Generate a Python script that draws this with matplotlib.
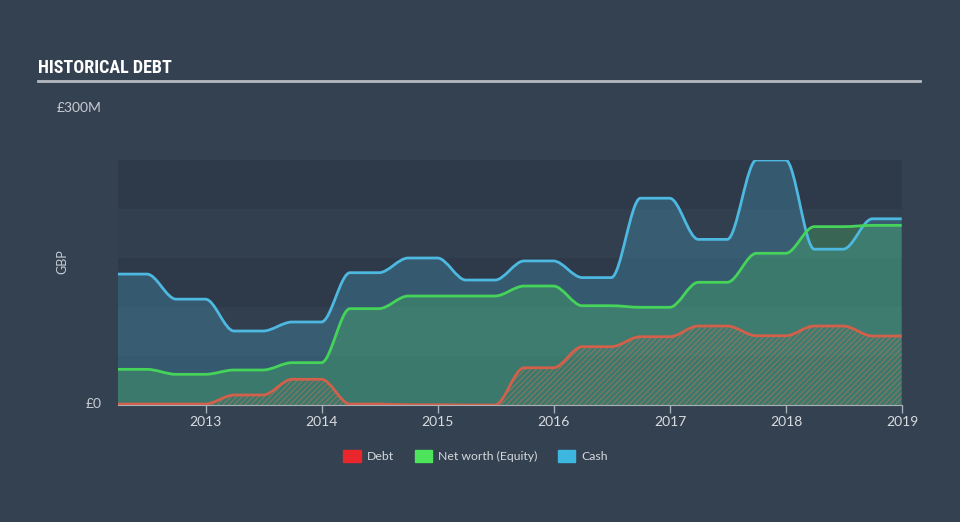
import numpy as np
import pandas as pd
import matplotlib
matplotlib.use("Agg")
import matplotlib.pyplot as plt
import matplotlib.dates as mdates
from matplotlib import font_manager
from matplotlib.path import Path
from matplotlib.patches import PathPatch, Patch

# quarterly points (GBP millions)
dates = pd.date_range("2012-03-31", "2018-12-31", freq="QE")
cash = [133.6, 133.6, 108, 108, 75.5, 75.5, 84.7, 84.7, 135, 135, 150, 150,
        127.5, 127.5, 147, 147, 130, 130, 211, 211, 169, 169, 250, 250,
        159, 159, 190, 190]
equity = [36.4, 36.4, 31.3, 31.3, 35.7, 35.7, 43.2, 43.2, 98.3, 98.3, 111.2, 111.2,
          111.2, 111.2, 121.4, 121.4, 101.3, 101.3, 99.7, 99.7, 125.2, 125.2, 154.8, 154.8,
          182, 182, 183.3, 183.3]
debt = [1, 1, 1, 1, 10.2, 10.2, 26.2, 26.2, 1, 1, 0.3, 0.3,
        0, 0, 38, 38, 59.5, 59.5, 69.7, 69.7, 80.6, 80.6, 70.7, 70.7,
        80.6, 80.6, 70.4, 70.4]
years = [2013, 2014, 2015, 2016, 2017, 2018, 2019]

BG = "#344151"
xs = mdates.date2num(dates.to_pydatetime())

# pick a narrow font for the title if one is there
installed = {f.name for f in font_manager.fontManager.ttflist}
title_font = "DejaVu Sans"
title_stretch = "normal"
for name in ["Liberation Sans Narrow", "DejaVu Sans Condensed", "Roboto Condensed", "Open Sans Condensed"]:
    if name in installed:
        title_font = name
        break
else:
    title_stretch = "condensed"


def smooth_path(x, y, close=False):
    # monotone-style curve: flat tangents at each point
    verts = [(x[0], y[0])]
    codes = [Path.MOVETO]
    for i in range(len(x) - 1):
        dx = (x[i + 1] - x[i]) / 3
        verts += [(x[i] + dx, y[i]), (x[i + 1] - dx, y[i + 1]), (x[i + 1], y[i + 1])]
        codes += [Path.CURVE4] * 3
    if close:
        verts += [(x[-1], 0), (x[0], 0), (x[0], y[0])]
        codes += [Path.LINETO, Path.LINETO, Path.CLOSEPOLY]
    return Path(verts, codes)


plt.rcParams["hatch.linewidth"] = 0.7
fig = plt.figure(figsize=(9.6, 5.22), dpi=100, facecolor=BG)
ax = fig.add_axes([118 / 960, 117 / 522, 784 / 960, 245 / 522])
ax.set_facecolor(BG)
ax.set_xlim(xs[0], xs[-1])
ax.set_ylim(0, 250)

# background bands
for i, lo in enumerate(range(0, 250, 50)):
    ax.axhspan(lo, lo + 50, color="#2e3a49" if i % 2 == 0 else "#323f4f", lw=0, zorder=0)

ax.add_patch(PathPatch(smooth_path(xs, cash, True), facecolor="#4ab8e0", alpha=0.25, lw=0, zorder=1))
ax.add_patch(PathPatch(smooth_path(xs, equity, True), facecolor="#4cd964", alpha=0.25, lw=0, zorder=2))
ax.add_patch(PathPatch(smooth_path(xs, debt, True), facecolor="none", edgecolor=(0.85, 0.45, 0.35, 0.55),
                       hatch="//////", lw=0, zorder=3))

ax.add_patch(PathPatch(smooth_path(xs, cash), facecolor="none", edgecolor="#4db8e0", lw=2, zorder=5))
ax.add_patch(PathPatch(smooth_path(xs, equity), facecolor="none", edgecolor="#46d35a", lw=2, zorder=5))
ax.add_patch(PathPatch(smooth_path(xs, debt), facecolor="none", edgecolor="#d2604a", lw=2, zorder=5))

for s in ["top", "right", "left"]:
    ax.spines[s].set_visible(False)
ax.spines["bottom"].set_color("#a8b0b8")
ax.spines["bottom"].set_zorder(6)
ax.set_yticks([])
ticks = [mdates.date2num(pd.Timestamp(f"{y}-01-01")) for y in years]
ax.set_xticks(ticks)
ax.set_xticklabels([str(y) for y in years])
ax.tick_params(axis="x", colors="#a8b0b8", length=6, width=1, labelcolor="#d8dce0",
               labelsize=10, pad=2)
for t in ax.get_xticklabels():
    t.set_family("Lato")

fig.text(38 / 960, 1 - 68 / 522, "HISTORICAL DEBT", color="white",
         fontsize=13 if title_stretch == "normal" and title_font != "DejaVu Sans" else 11.5,
         fontweight="bold", fontstretch=title_stretch,
         family=[title_font, "DejaVu Sans"], va="center", ha="left")
fig.add_artist(plt.Line2D([38 / 960, 920 / 960], [1 - 81 / 522, 1 - 81 / 522], color="#b4bac1", lw=2))
fig.text(102 / 960, 1 - 108 / 522, "£300M", color="#c8ccd2", fontsize=10, family="Lato",
         ha="right", va="center")
fig.text(102 / 960, 1 - 404 / 522, "£0", color="#c8ccd2", fontsize=10, family="Lato",
         ha="right", va="center")
fig.text(62 / 960, 1 - 262 / 522, "GBP", color="#c8ccd2", fontsize=9, family="Lato",
         rotation=90, ha="center", va="center")

handles = [Patch(color="#e8262b"), Patch(color="#4de35a"), Patch(color="#3db7e0")]
fig.legend(handles, ["Debt", "Net worth (Equity)", "Cash"], loc="center", ncol=3,
           bbox_to_anchor=(475.5 / 960, 1 - 456 / 522), frameon=False, labelcolor="#d4d8dc",
           prop={"family": "Lato", "size": 8.8}, handlelength=1.4, handleheight=1.1,
           handletextpad=0.5, columnspacing=1.7)

fig.savefig("out.png", dpi=100, facecolor=BG)
